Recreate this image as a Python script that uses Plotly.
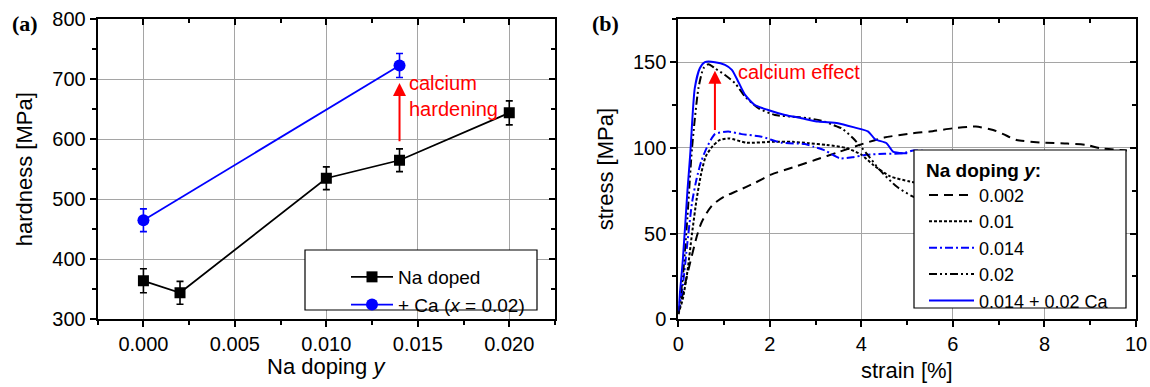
import plotly.graph_objects as go

# ---------------- data: panel (a) ----------------
na_doping = [0.0, 0.002, 0.010, 0.014, 0.020]
hardness_na = [364, 344, 535, 565, 644]
hardness_na_err = [20, 19, 19, 19, 20]
ca_doping = [0.0, 0.014]
hardness_ca = [465, 723]
hardness_ca_err = [19, 20]

# ---------------- data: panel (b) ----------------
strain_002 = [0, 0.1, 0.25, 0.4, 0.5, 0.62, 0.76, 1.0, 1.3, 1.67, 2.04, 2.55, 3.0, 3.5, 3.96, 4.5, 5.12, 5.5, 6.0, 6.5, 6.88, 7.1, 7.39, 7.97, 8.5, 8.92, 9.2, 9.8]
stress_002 = [3, 15, 32, 48, 56, 62, 67, 71.5, 75, 79.5, 84.5, 89, 93, 97.5, 101.7, 106, 108.5, 109.5, 111.4, 112.4, 110.4, 108, 104.6, 103, 102.5, 101.7, 99.8, 98.5]

strain_01 = [0, 0.1, 0.2, 0.3, 0.4, 0.5, 0.6, 0.75, 0.9, 1.1, 1.5, 2.1, 2.5, 2.85, 3.24, 3.68, 4.0, 4.26, 4.62, 5.06, 5.4]
stress_01 = [3, 12, 28, 50, 70, 85, 95, 101, 104.5, 105.5, 103, 103.6, 103.5, 102.7, 101.7, 99.8, 96, 90, 83.5, 80.3, 79]

strain_014 = [0, 0.1, 0.2, 0.3, 0.4, 0.5, 0.62, 0.8, 1.09, 1.38, 1.82, 2.25, 2.77, 2.95, 3.2, 3.53, 3.8, 4.11, 4.5, 4.91, 5.13, 5.5]
stress_014 = [4, 20, 45, 68, 82, 92, 100, 108, 109.5, 108, 106.5, 103, 102.2, 100.7, 98.5, 93.9, 94.5, 95.9, 96.5, 96.8, 98.4, 98]

strain_02 = [0, 0.1, 0.2, 0.3, 0.44, 0.55, 0.66, 0.8, 1.02, 1.24, 1.46, 1.75, 2.11, 2.48, 2.84, 3.2, 3.46, 3.57, 3.82, 4.11, 4.4, 4.77, 5.13, 5.4]
stress_02 = [3, 25, 60, 100, 134.8, 146.4, 148.8, 146.4, 142.5, 137.7, 129.9, 123.1, 119.2, 118.2, 117.3, 115.3, 112.5, 111.4, 105.6, 96.8, 87.1, 77.4, 71.5, 69]

strain_ca = [0, 0.1, 0.2, 0.26, 0.36, 0.47, 0.58, 0.8, 1.02, 1.17, 1.31, 1.46, 1.67, 1.96, 2.33, 2.69, 3.06, 3.49, 3.86, 4.15, 4.3, 4.55, 4.69, 4.91, 5.0]
stress_ca = [5, 35, 75, 96, 134.8, 146.4, 150, 150, 148.4, 145.5, 138.6, 130.9, 125, 122.1, 119.2, 117.3, 115.3, 114.4, 111.8, 109.5, 105, 102.7, 97.8, 96.8, 96.8]

W, H = 1150, 387
FONT = "Liberation Sans, Arial, sans-serif"
TICKFS = 20
TITLEFS = 22
BLUE = "rgb(0,0,255)"
GRID = "rgb(165,165,165)"

ax_left, ax_right = 97.7, 555.0
bx_left, bx_right = 678.3, 1136.0
y_top, y_bot = 19.3, 319.2
dom_a = [ax_left / W, ax_right / W]
dom_b = [bx_left / W, bx_right / W]
dom_y = [1 - y_bot / H, 1 - y_top / H]

fig = go.Figure()

# panel (a)
fig.add_trace(go.Scatter(
    x=na_doping, y=hardness_na, mode="lines+markers", name="Na doped",
    line=dict(color="black", width=1.8),
    marker=dict(symbol="square", size=11, color="black"),
    error_y=dict(type="data", array=hardness_na_err, color="black", thickness=1.6, width=3.5),
    xaxis="x", yaxis="y", legend="legend"))
fig.add_trace(go.Scatter(
    x=ca_doping, y=hardness_ca, mode="lines+markers", name="+ Ca (<i>x</i> = 0.02)",
    line=dict(color=BLUE, width=1.8),
    marker=dict(symbol="circle", size=12, color=BLUE),
    error_y=dict(type="data", array=hardness_ca_err, color=BLUE, thickness=1.6, width=3.5),
    xaxis="x", yaxis="y", legend="legend"))

# panel (b)
curves = [
    (strain_002, stress_002, "0.002", "black", "9px,6px"),
    (strain_01, stress_01, "0.01", "black", "3px,2px"),
    (strain_014, stress_014, "0.014", BLUE, "8px,3px,2px,3px"),
    (strain_02, stress_02, "0.02", "black", "8px,3px,2px,3px,2px,3px"),
    (strain_ca, stress_ca, "0.014 + 0.02 Ca", BLUE, "solid"),
]
for xs, ys, nm, col, dash in curves:
    fig.add_trace(go.Scatter(
        x=xs, y=ys, mode="lines", name=nm, line=dict(color=col, width=2, dash=dash, shape="spline", smoothing=0.6),
        xaxis="x2", yaxis="y2", legend="legend2"))

# empty traces carrying the mirrored (inside) ticks on top/right
fig.add_trace(go.Scatter(x=[None], y=[None], xaxis="x3", yaxis="y3", showlegend=False, hoverinfo="skip"))
fig.add_trace(go.Scatter(x=[None], y=[None], xaxis="x4", yaxis="y4", showlegend=False, hoverinfo="skip"))

common = dict(showline=True, linecolor="black", linewidth=2, showgrid=True, gridcolor=GRID, gridwidth=1,
              zeroline=False, ticks="outside", ticklen=6, tickwidth=1.5, tickcolor="black",
              tickfont=dict(family=FONT, size=TICKFS, color="black"), mirror=True, automargin=False)
inside = dict(showline=False, showgrid=False, zeroline=False, ticks="inside", ticklen=6, tickwidth=1.5,
              tickcolor="black", showticklabels=False, automargin=False)

fig.update_layout(
    width=W, height=H, margin=dict(l=0, r=0, t=0, b=0, pad=0, autoexpand=False),
    paper_bgcolor="white", plot_bgcolor="white",
    font=dict(family=FONT, size=TICKFS, color="black"),
    xaxis=dict(domain=dom_a, range=[-0.0025, 0.0225], tickvals=[0, 0.005, 0.010, 0.015, 0.020],
               ticktext=["0.000", "0.005", "0.010", "0.015", "0.020"],
               minor=dict(ticks="outside", ticklen=4, tickwidth=1.5, tickcolor="black", dtick=0.0025, tick0=0, showgrid=False),
               anchor="y", **common),
    yaxis=dict(domain=dom_y, range=[300, 800], dtick=100,
               minor=dict(ticks="outside", ticklen=4, tickwidth=1.5, tickcolor="black", dtick=50, showgrid=False),
               anchor="x", **common),
    xaxis3=dict(overlaying="x", side="top", range=[-0.0025, 0.0225], dtick=0.005, tick0=0,
                minor=dict(ticks="inside", ticklen=4, tickwidth=1.5, tickcolor="black", dtick=0.0025, tick0=0, showgrid=False),
                anchor="y3", **inside),
    yaxis3=dict(overlaying="y", side="right", range=[300, 800], dtick=100,
                minor=dict(ticks="inside", ticklen=4, tickwidth=1.5, tickcolor="black", dtick=50, showgrid=False),
                anchor="x3", **inside),
    xaxis2=dict(domain=dom_b, range=[0, 10], dtick=2,
                minor=dict(ticks="outside", ticklen=4, tickwidth=1.5, tickcolor="black", dtick=1, showgrid=False),
                anchor="y2", **common),
    yaxis2=dict(domain=dom_y, range=[0, 175], tickvals=[0, 50, 100, 150],
                minor=dict(ticks="outside", ticklen=4, tickwidth=1.5, tickcolor="black", dtick=25, tick0=0, showgrid=False),
                anchor="x2", **common),
    xaxis4=dict(overlaying="x2", side="top", range=[0, 10], dtick=2,
                minor=dict(ticks="inside", ticklen=4, tickwidth=1.5, tickcolor="black", dtick=1, showgrid=False),
                anchor="y4", **inside),
    yaxis4=dict(overlaying="y2", side="right", range=[0, 175], dtick=50,
                minor=dict(ticks="inside", ticklen=4, tickwidth=1.5, tickcolor="black", dtick=25, tick0=0, showgrid=False),
                anchor="x4", **inside),
    legend=dict(x=346 / W, y=1 - 258 / H, xanchor="left", yanchor="top", bgcolor="rgba(0,0,0,0)",
                borderwidth=0, font=dict(family=FONT, size=19, color="black"), itemwidth=42),
    legend2=dict(x=924 / W, y=1 - 152 / H, xanchor="left", yanchor="top", bgcolor="rgba(0,0,0,0)",
                 borderwidth=0, font=dict(family=FONT, size=18, color="black"), itemwidth=45,
                 title=dict(text="<b>Na doping <i>y</i>:</b>", font=dict(family=FONT, size=19, color="black"))),
    showlegend=True,
)

# legend boxes (white, drawn above the plot area, below the legend text)
fig.add_shape(type="rect", xref="paper", yref="paper", x0=305 / W, x1=537 / W, y0=1 - 310 / H, y1=1 - 250 / H,
              line=dict(color="black", width=1.2), fillcolor="white", layer="above")
fig.add_shape(type="rect", xref="paper", yref="paper", x0=914 / W, x1=1126 / W, y0=1 - 308 / H, y1=1 - 150 / H,
              line=dict(color="black", width=1.2), fillcolor="white", layer="above")

ann = []
# panel labels
ann.append(dict(text="<b>(a)</b>", x=10 / W, y=1 - 23 / H, xref="paper", yref="paper", xanchor="left", yanchor="middle",
                showarrow=False, font=dict(family="Liberation Serif, Times New Roman, serif", size=22, color="black")))
ann.append(dict(text="<b>(b)</b>", x=590 / W, y=1 - 23 / H, xref="paper", yref="paper", xanchor="left", yanchor="middle",
                showarrow=False, font=dict(family="Liberation Serif, Times New Roman, serif", size=22, color="black")))
# axis titles
ann.append(dict(text="hardness [MPa]", x=24 / W, y=(dom_y[0] + dom_y[1]) / 2, xref="paper", yref="paper",
                textangle=-90, showarrow=False, xanchor="center", yanchor="middle", font=dict(size=TITLEFS)))
ann.append(dict(text="stress [MPa]", x=605 / W, y=(dom_y[0] + dom_y[1]) / 2, xref="paper", yref="paper",
                textangle=-90, showarrow=False, xanchor="center", yanchor="middle", font=dict(size=TITLEFS)))
ann.append(dict(text="Na doping <i>y</i>", x=(dom_a[0] + dom_a[1]) / 2, y=1 - 366 / H, xref="paper", yref="paper",
                showarrow=False, xanchor="center", yanchor="middle", font=dict(size=TITLEFS)))
ann.append(dict(text="strain [%]", x=(dom_b[0] + dom_b[1]) / 2, y=1 - 370 / H, xref="paper", yref="paper",
                showarrow=False, xanchor="center", yanchor="middle", font=dict(size=TITLEFS)))
# red arrows and text
ann.append(dict(x=0.014, y=694, ax=0.014, ay=594, xref="x", yref="y", axref="x", ayref="y", text="",
                showarrow=True, arrowhead=2, arrowsize=1.3, arrowwidth=2, arrowcolor="red"))
ann.append(dict(x=0.01441, y=672, xref="x", yref="y", text="calcium<br>hardening", showarrow=False,
                xanchor="left", yanchor="middle", align="left", font=dict(size=20, color="red")))
ann.append(dict(x=0.8, y=145, ax=0.8, ay=109.5, xref="x2", yref="y2", axref="x2", ayref="y2", text="",
                showarrow=True, arrowhead=2, arrowsize=1.3, arrowwidth=2, arrowcolor="red"))
ann.append(dict(x=1.27, y=144.5, xref="x2", yref="y2", text="calcium effect", showarrow=False,
                xanchor="left", yanchor="middle", align="left", font=dict(size=20, color="red")))
fig.update_layout(annotations=ann)

fig.write_html("out.html")
